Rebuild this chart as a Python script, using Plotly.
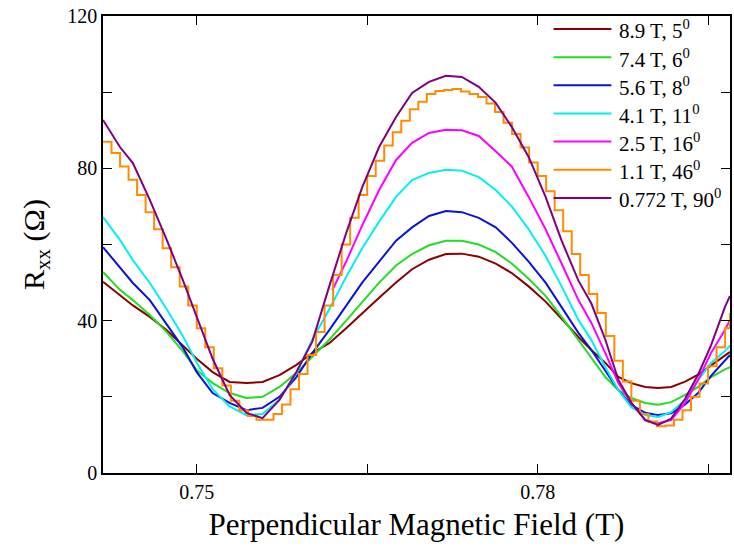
import plotly.graph_objects as go

# Magnetic field grid (T) for the smooth curves
B = [0.74175, 0.74324, 0.74438, 0.74587, 0.74736, 0.74877, 0.75000, 0.75140,
     0.75289, 0.75438, 0.75579, 0.75728, 0.75877, 0.76017, 0.76166, 0.76315,
     0.76456, 0.76605, 0.76754, 0.76895, 0.77044, 0.77193, 0.77333, 0.77482,
     0.77631, 0.77772, 0.77921, 0.78070, 0.78211, 0.78359, 0.78473, 0.78596,
     0.78710, 0.78824, 0.78947, 0.79061, 0.79175, 0.79298, 0.79412, 0.79526,
     0.79649, 0.79693]

r_89T = [50.2, 46.7, 44.0, 41.0, 37.5, 33.5, 30.0, 26.5, 23.9, 23.6, 23.9, 25.7,
         28.4, 31.5, 34.1, 38.0, 42.0, 46.0, 50.0, 53.5, 56.0, 57.5, 57.6, 56.8,
         55.0, 52.5, 49.0, 45.0, 40.5, 35.7, 32.3, 28.9, 25.2, 23.6, 22.6, 22.3,
         22.6, 24.0, 25.8, 28.2, 30.8, 31.8]
r_74T = [52.8, 48.1, 45.4, 41.5, 37.0, 32.0, 27.0, 23.6, 21.0, 19.7, 20.0, 22.6,
         26.3, 30.5, 35.0, 40.0, 45.0, 50.0, 54.5, 57.5, 59.8, 61.0, 61.0, 60.0,
         58.0, 55.0, 51.0, 46.5, 41.0, 34.9, 30.5, 25.2, 21.8, 19.7, 18.4, 17.9,
         18.6, 20.5, 22.6, 25.2, 27.2, 27.8]
r_56T = [59.3, 54.0, 49.9, 45.4, 39.0, 33.0, 26.5, 21.0, 18.4, 16.5, 17.1, 20.0,
         25.2, 31.5, 37.5, 44.0, 50.0, 55.5, 61.0, 64.5, 67.5, 68.8, 68.5, 67.0,
         64.5, 60.5, 55.5, 50.0, 43.5, 36.8, 32.3, 27.0, 21.8, 17.9, 15.8, 15.2,
         15.7, 18.0, 21.0, 25.5, 29.5, 31.0]
r_41T = [67.2, 61.2, 55.9, 49.9, 43.0, 36.0, 29.0, 22.0, 17.5, 15.2, 15.5, 19.2,
         26.3, 35.0, 43.0, 51.5, 59.0, 66.0, 72.5, 76.9, 78.8, 79.6, 79.4, 77.7,
         74.3, 70.0, 64.0, 57.0, 49.0, 40.2, 34.9, 27.8, 21.8, 17.3, 15.2, 14.7,
         16.0, 19.2, 24.4, 28.9, 32.0, 33.5]
r_0772T = [92.7, 85.6, 81.4, 71.7, 61.2, 50.7, 41.0, 30.0, 20.5, 15.8, 14.4, 19.2,
           26.5, 34.5, 49.0, 63.0, 75.0, 85.6, 93.5, 99.8, 102.7, 104.3, 104.0, 101.4,
           97.2, 90.9, 83.0, 72.5, 61.0, 50.5, 44.5, 35.0, 24.5, 18.5, 13.9, 12.6,
           14.3, 19.5, 25.8, 33.5, 43.6, 46.5]

# 2.5 T curve covers only part of the sweep
B_25T = [0.76193, 0.76315, 0.76456, 0.76605, 0.76754, 0.76895, 0.77044, 0.77193,
         0.77333, 0.77482, 0.77631, 0.77772, 0.77921, 0.78070, 0.78211, 0.78359,
         0.78473, 0.78596, 0.78710, 0.78824, 0.78947, 0.79061, 0.79175, 0.79298,
         0.79412, 0.79526, 0.79649, 0.79693]
r_25T = [48.0, 55.5, 65.0, 74.3, 82.2, 86.7, 89.3, 90.1, 90.0, 88.5, 84.5, 80.5,
         72.5, 64.0, 55.0, 45.4, 39.4, 31.5, 23.6, 18.4, 13.9, 13.1, 13.9, 18.4,
         24.4, 31.5, 37.6, 40.2]

# 1.1 T curve: coarse field steps (staircase)
B_11T = [0.74175, 0.74250, 0.74325, 0.74400, 0.74475, 0.74550, 0.74625, 0.74700,
         0.74775, 0.74850, 0.74925, 0.75000, 0.75075, 0.75150, 0.75225, 0.75300,
         0.75375, 0.75450, 0.75525, 0.75600, 0.75675, 0.75750, 0.75825, 0.75900,
         0.75975, 0.76050, 0.76125, 0.76200, 0.76275, 0.76350, 0.76425, 0.76500,
         0.76575, 0.76650, 0.76725, 0.76800, 0.76875, 0.76950, 0.77025, 0.77100,
         0.77175, 0.77250, 0.77325, 0.77400, 0.77475, 0.77550, 0.77625, 0.77700,
         0.77775, 0.77850, 0.77925, 0.78000, 0.78075, 0.78150, 0.78225, 0.78300,
         0.78375, 0.78450, 0.78525, 0.78600, 0.78675, 0.78750, 0.78825, 0.78900,
         0.78975, 0.79050, 0.79125, 0.79200, 0.79275, 0.79350, 0.79425, 0.79500,
         0.79575, 0.79650, 0.79693]
r_11T = [87.0, 84.0, 80.5, 77.0, 73.0, 68.5, 64.0, 59.0, 54.0, 49.0, 44.0, 38.0,
         33.0, 27.5, 23.0, 19.0, 16.5, 15.0, 14.0, 14.0, 15.5, 18.0, 22.0, 26.0,
         31.0, 37.0, 44.0, 52.0, 60.0, 67.0, 73.0, 78.0, 82.0, 86.0, 89.5, 92.5,
         95.5, 97.5, 99.5, 100.3, 100.6, 100.8, 100.2, 99.5, 98.7, 97.0, 94.8, 92.0,
         89.0, 85.5, 81.5, 78.0, 74.0, 69.0, 63.5, 57.5, 52.0, 47.0, 42.0, 36.0,
         29.5, 24.0, 19.0, 15.5, 13.5, 12.3, 12.5, 14.0, 16.5, 20.0, 23.5, 28.0,
         33.0, 38.0, 42.0]

series = [
    ("8.9 T, 5<sup>0</sup>", B, r_89T, "#8B0000", "linear"),
    ("7.4 T, 6<sup>0</sup>", B, r_74T, "#22DD22", "linear"),
    ("5.6 T, 8<sup>0</sup>", B, r_56T, "#0A14D8", "linear"),
    ("4.1 T, 11<sup>0</sup>", B, r_41T, "#00F0F0", "linear"),
    ("2.5 T, 16<sup>0</sup>", B_25T, r_25T, "#FF00FF", "linear"),
    ("1.1 T, 46<sup>0</sup>", B_11T, r_11T, "#FF8C00", "hv"),
    ("0.772 T, 90<sup>0</sup>", B, r_0772T, "#800080", "linear"),
]

FONT = "Times New Roman, Liberation Serif, DejaVu Serif, serif"

fig = go.Figure()
for name, x, y, color, shape in series:
    fig.add_trace(go.Scatter(
        x=x, y=y, name=name, mode="lines", showlegend=False,
        line=dict(color=color, width=2, shape=shape),
    ))

# Legend drawn as line samples + labels (paper coordinates)
leg_x0, leg_x1, leg_tx = 0.7186, 0.8108, 0.820
leg_y0, leg_dy = 0.9716, 0.0616
for i, (name, x, y, color, shape) in enumerate(series):
    yy = leg_y0 - i * leg_dy
    fig.add_shape(type="line", xref="paper", yref="paper",
                  x0=leg_x0, x1=leg_x1, y0=yy, y1=yy,
                  line=dict(color=color, width=2))
    fig.add_annotation(xref="paper", yref="paper", x=leg_tx, y=yy,
                       xanchor="left", yanchor="middle", yshift=-1,
                       text=name, showarrow=False,
                       font=dict(family=FONT, size=21, color="black"))

axis_common = dict(
    showline=True, linecolor="black", linewidth=1.5, mirror="ticks",
    ticks="inside", ticklen=9, tickwidth=1.2, tickcolor="black",
    showgrid=False, zeroline=False,
    tickfont=dict(family=FONT, size=20, color="black"),
)

fig.update_xaxes(
    range=[0.74175, 0.79693], tick0=0.75, dtick=0.03, tickformat=".2f",
    minor=dict(ticks="inside", dtick=0.015, tick0=0.75, ticklen=9, tickcolor="black"),
    title=dict(text="Perpendicular Magnetic Field (T)",
               font=dict(family=FONT, size=31, color="black"), standoff=12),
    **axis_common,
)
fig.update_yaxes(
    range=[0, 120], tick0=0, dtick=40,
    minor=dict(ticks="inside", dtick=20, tick0=0, ticklen=9, tickcolor="black"),
    title=dict(text="R<sub>xx</sub> (Ω)",
               font=dict(family=FONT, size=30, color="black"), standoff=14),
    **axis_common,
)

fig.update_layout(
    width=734, height=550,
    margin=dict(l=103, r=2, t=16, b=77),
    paper_bgcolor="white", plot_bgcolor="white",
    showlegend=False,
    font=dict(family=FONT),
)

fig.write_html("out.html")
